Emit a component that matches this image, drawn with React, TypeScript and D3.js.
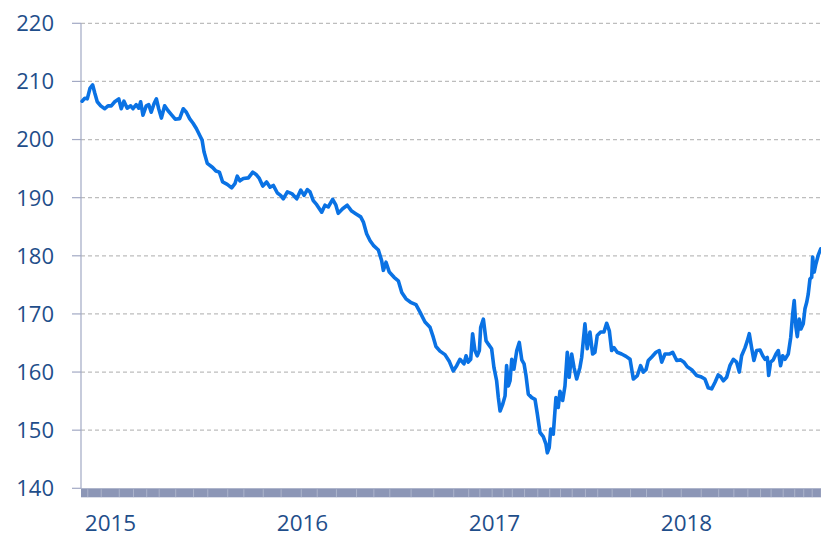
import React from "react";
import * as d3 from "d3";

// decimal years
const years: number[] = [
  2014.839, 2014.853, 2014.866, 2014.88, 2014.894, 2014.905, 2014.918, 2014.936, 2014.957, 2014.974, 2014.991,
  2015.009, 2015.03, 2015.043, 2015.057, 2015.074, 2015.092, 2015.104, 2015.121, 2015.134, 2015.144, 2015.156,
  2015.173, 2015.186, 2015.199, 2015.214, 2015.226, 2015.238, 2015.252, 2015.269, 2015.286, 2015.304, 2015.324,
  2015.347, 2015.366, 2015.382, 2015.399, 2015.417, 2015.434, 2015.452, 2015.464, 2015.474, 2015.491, 2015.519,
  2015.536, 2015.554, 2015.571, 2015.595, 2015.618, 2015.635, 2015.647, 2015.661, 2015.679, 2015.705, 2015.728,
  2015.745, 2015.762, 2015.78, 2015.8, 2015.818, 2015.835, 2015.856, 2015.873, 2015.887, 2015.908, 2015.931,
  2015.957, 2015.978, 2015.995, 2016.012, 2016.026, 2016.043, 2016.061, 2016.087, 2016.104, 2016.121, 2016.144,
  2016.161, 2016.173, 2016.196, 2016.22, 2016.243, 2016.266, 2016.29, 2016.304, 2016.321, 2016.339, 2016.356,
  2016.382, 2016.399, 2016.408, 2016.422, 2016.439, 2016.464, 2016.486, 2016.504, 2016.526, 2016.55, 2016.578,
  2016.599, 2016.625, 2016.651, 2016.668, 2016.682, 2016.703, 2016.729, 2016.752, 2016.772, 2016.79, 2016.807,
  2016.828, 2016.839, 2016.85, 2016.863, 2016.873, 2016.885, 2016.897, 2016.908, 2016.915, 2016.929, 2016.943,
  2016.955, 2016.972, 2016.984, 2016.998, 2017.007, 2017.016, 2017.03, 2017.042, 2017.05, 2017.059, 2017.068,
  2017.077, 2017.088, 2017.103, 2017.116, 2017.129, 2017.141, 2017.151, 2017.163, 2017.181, 2017.198, 2017.21,
  2017.224, 2017.241, 2017.255, 2017.262, 2017.272, 2017.28, 2017.293, 2017.307, 2017.319, 2017.328, 2017.342,
  2017.354, 2017.366, 2017.376, 2017.389, 2017.401, 2017.415, 2017.432, 2017.441, 2017.458, 2017.47, 2017.484,
  2017.498, 2017.51, 2017.522, 2017.54, 2017.557, 2017.571, 2017.585, 2017.597, 2017.609, 2017.626, 2017.649,
  2017.672, 2017.693, 2017.71, 2017.731, 2017.748, 2017.762, 2017.776, 2017.788, 2017.806, 2017.828, 2017.845,
  2017.858, 2017.875, 2017.897, 2017.915, 2017.936, 2017.957, 2017.974, 2017.991, 2018.014, 2018.04, 2018.061,
  2018.083, 2018.1, 2018.118, 2018.135, 2018.152, 2018.165, 2018.179, 2018.196, 2018.213, 2018.231, 2018.248,
  2018.262, 2018.274, 2018.292, 2018.304, 2018.314, 2018.326, 2018.338, 2018.352, 2018.37, 2018.384, 2018.396,
  2018.408, 2018.415, 2018.425, 2018.439, 2018.453, 2018.465, 2018.477, 2018.488, 2018.5, 2018.517, 2018.53,
  2018.54, 2018.548, 2018.557, 2018.564, 2018.574, 2018.583, 2018.595, 2018.604, 2018.613, 2018.621, 2018.63,
  2018.639, 2018.644, 2018.652, 2018.661, 2018.673, 2018.686,
];

const values: number[] = [
  206.6, 207.1, 207.0, 208.8, 209.4, 208.0, 206.5, 205.8, 205.3, 205.8, 205.8,
  206.5, 207.0, 205.3, 206.6, 205.4, 205.8, 205.3, 206.0, 205.4, 206.5, 204.2,
  205.8, 206.0, 204.7, 206.2, 207.0, 205.3, 203.7, 205.8, 205.0, 204.3, 203.5,
  203.6, 205.3, 204.7, 203.6, 202.8, 201.9, 200.7, 199.9, 197.9, 195.9, 195.2,
  194.6, 194.4, 192.7, 192.3, 191.7, 192.4, 193.7, 192.9, 193.3, 193.4, 194.4,
  194.0, 193.3, 192.0, 192.7, 191.8, 192.1, 190.8, 190.4, 189.8, 191.0, 190.7,
  189.8, 191.3, 190.4, 191.4, 191.0, 189.5, 188.8, 187.5, 188.7, 188.4, 189.7,
  188.7, 187.3, 188.1, 188.7, 187.7, 187.2, 186.7, 185.8, 183.8, 182.6, 181.8,
  181.0, 179.2, 177.5, 178.9, 177.2, 176.3, 175.7, 173.7, 172.6, 172.0, 171.6,
  170.3, 168.6, 167.7, 166.0, 164.4, 163.6, 163.0, 161.8, 160.2, 161.1, 162.2,
  161.4, 162.8, 161.7, 162.2, 166.6, 163.7, 162.8, 163.7, 167.7, 169.1, 165.4,
  164.8, 164.0, 160.8, 158.5, 155.6, 153.3, 154.5, 155.9, 161.1, 157.6, 158.5,
  162.2, 160.5, 163.7, 165.1, 162.1, 161.4, 159.4, 156.2, 155.6, 155.3, 152.8,
  149.6, 148.9, 147.6, 146.1, 147.0, 150.2, 149.3, 155.6, 153.9, 156.7, 155.1,
  157.6, 163.4, 159.1, 163.1, 160.8, 158.8, 160.8, 162.5, 168.3, 164.0, 166.9,
  163.1, 163.4, 166.3, 166.9, 166.9, 168.4, 167.1, 163.7, 164.2, 163.4, 163.1,
  162.7, 162.2, 158.8, 159.4, 161.1, 160.0, 160.4, 162.0, 162.6, 163.4, 163.7,
  161.7, 163.1, 163.1, 163.4, 162.0, 162.1, 161.7, 160.9, 160.4, 159.4, 159.2,
  158.8, 157.3, 157.1, 158.2, 159.5, 159.2, 158.5, 159.1, 161.1, 162.2, 161.7,
  160.0, 162.8, 164.2, 165.4, 166.6, 164.2, 162.0, 163.7, 163.8, 162.8, 162.2,
  162.5, 159.4, 161.7, 162.1, 163.1, 163.7, 161.1, 162.8, 162.2, 163.1, 166.0,
  170.0, 172.3, 167.7, 166.1, 169.1, 167.4, 168.3, 170.9, 172.0, 173.4, 176.0,
  176.3, 179.8, 177.2, 178.6, 180.1, 181.2,
];

const yTicks: number[] = [140, 150, 160, 170, 180, 190, 200, 210, 220];
const yearLabels: number[] = [2015, 2016, 2017, 2018];

const W = 821;
const H = 538;
const left = 81;
const right = 821;
const top = 23.3;
const bottom = 488.3;

export default function App() {
  const x = d3.scaleLinear().domain([2014.8333, 2018.6875]).range([left, right]);
  const y = d3.scaleLinear().domain([140, 220]).range([bottom, top]);
  const pts = years.map((t, i) => [t, values[i]] as [number, number]);
  const line = d3
    .line<[number, number]>()
    .x((d) => x(d[0]))
    .y((d) => y(d[1]));
  const labelColor = "#1F4E8A";
  return (
    <div style={{ position: "absolute", left: 0, top: 0 }}>
      <svg width={W} height={H} style={{ display: "block", background: "#fff" }}>
        {yTicks.map((v) => (
          <g key={v}>
            {v !== 140 && (
              <line
                x1={left}
                x2={right}
                y1={y(v)}
                y2={y(v)}
                stroke="#BDBDBD"
                strokeWidth={1.2}
                strokeDasharray="4 3"
              />
            )}
            <line x1={72} x2={left} y1={y(v)} y2={y(v)} stroke="#A2A9C4" strokeWidth={1.2} />
            <text
              x={54}
              y={y(v)}
              dy="0.36em"
              textAnchor="end"
              fontFamily="'Open Sans', sans-serif"
              fontSize={22}
              fill={labelColor}
            >
              {v}
            </text>
          </g>
        ))}
        <line x1={left} x2={left} y1={top} y2={bottom} stroke="#A2A9C4" strokeWidth={1.2} />
        <rect x={left} y={bottom} width={right - left} height={9} fill="#8C96B6" />
        {years.map((t, i) =>
          i % 5 === 2 ? (
            <line
              key={"g" + i}
              x1={x(t) + 0.5}
              x2={x(t) + 0.5}
              y1={bottom + 1}
              y2={bottom + 9}
              stroke="#C3C9DA"
              strokeWidth={0.6}
            />
          ) : null
        )}
        <path
          d={line(pts) || ""}
          fill="none"
          stroke="#0A72E4"
          strokeWidth={3.6}
          strokeLinejoin="round"
          strokeLinecap="round"
        />
        {yearLabels.map((yr) => (
          <text
            key={yr}
            x={x(yr)}
            dx={-2.5}
            y={531}
            textAnchor="middle"
            fontFamily="'Open Sans', sans-serif"
            fontSize={22.5}
            fill={labelColor}
          >
            {yr}
          </text>
        ))}
      </svg>
    </div>
  );
}
